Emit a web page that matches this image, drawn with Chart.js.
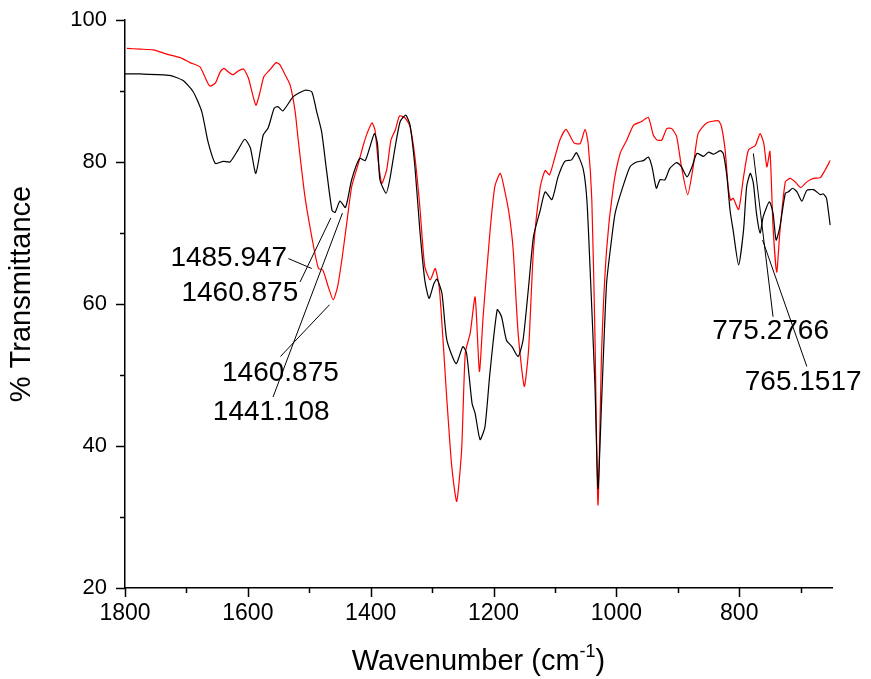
<!DOCTYPE html>
<html>
<head>
<meta charset="utf-8">
<title>IR spectra</title>
<script src="https://cdn.jsdelivr.net/npm/chart.js@4.4.0/dist/chart.umd.min.js"></script>
<style>
body { margin: 0; background: #fff; }
</style>
</head>
<body>
<canvas id="irChart" width="871" height="679"></canvas>
<script>
// black spectrum
const blackWavenumber = [1800,1776,1727,1706,1689,1675,1665,1653,1640,1629,
    1616,1605,1596,1587,1575,1567,1557,1551,1543,1526,
    1507,1496,1488,1480,1472,1463,1458,1450,1441,1431,
    1418,1409,1401,1394,1389,1385,1375,1369,1360,1352,
    1343,1336,1328,1320,1312,1305,1297,1292,1284,1276,
    1261,1250,1244,1235,1230,1222,1214,1206,1194,1187,
    1179,1170,1160,1152,1143,1135,1124,1116,1105,1095,
    1084,1073,1065,1054,1048,1043,1035,1030,1024,1016,
    1008,1002,991,978,967,956,948,942,935,929,
    921,913,902,894,885,877,869,858,850,842,
    831,826,820,815,810,801,793,788,782,777,
    772,766,761,751,745,740,734,725,720,713,
    706,698,690,679,668,663,658,652];
const blackTransmittance = [92.4,92.4,92.2,91.5,89.9,87.1,82.9,79.8,80.1,80.0,
    81.7,83.2,82.0,78.4,83.8,84.8,87.6,87.8,87.2,89.2,
    90.1,89.9,87.1,84.3,78.9,73.2,72.9,74.5,73.6,77.5,
    80.5,80.2,82.2,84.0,82.6,77.5,75.6,77.5,82.2,85.7,
    86.6,85.2,79.3,70.4,63.4,60.8,62.9,63.5,61.5,54.9,
    51.6,54.0,53.1,46.0,44.6,40.9,42.7,50.2,59.2,58.2,
    54.9,54.0,52.6,54.9,62.4,69.5,73.2,75.8,74.7,77.9,
    80.1,80.3,81.3,79.0,74.6,65.3,48.8,34.0,46.5,62.9,
    69.0,72.8,76.1,79.3,80.0,80.2,80.7,79.3,76.3,77.5,
    77.5,79.1,79.9,79.3,77.9,79.3,81.2,80.8,81.4,81.1,
    81.6,81.2,77.9,73.2,70.4,65.5,70.4,76.5,78.4,77.0,
    72.8,70.0,72.3,74.4,72.8,69.0,70.8,75.6,75.8,76.3,
    75.8,74.5,76.0,76.1,75.4,75.5,74.9,71.1];

// red spectrum
const redWavenumber = [1797,1776,1754,1732,1710,1694,1678,1670,1662,1653,
    1645,1639,1632,1624,1616,1607,1599,1587,1580,1574,
    1564,1554,1548,1540,1531,1523,1518,1507,1493,1485,
    1478,1469,1461,1454,1447,1439,1431,1420,1412,1406,
    1398,1393,1388,1382,1374,1367,1360,1353,1344,1336,
    1328,1320,1312,1303,1295,1288,1276,1268,1260,1252,
    1246,1238,1230,1223,1217,1206,1198,1189,1181,1174,
    1168,1160,1150,1143,1135,1124,1116,1109,1100,1092,
    1082,1069,1059,1051,1046,1040,1035,1030,1024,1016,
    1005,994,983,972,959,948,940,934,926,918,
    910,902,894,884,875,867,853,834,829,823,
    818,814,810,801,793,785,774,766,760,755,
    750,745,739,734,725,717,709,700,690,679,
    668,660,652];
const redTransmittance = [96.0,95.9,95.8,95.2,94.7,94.0,93.4,92.0,90.7,91.1,
    92.7,93.2,92.7,92.3,92.8,93.1,91.8,88.0,89.9,92.0,
    93.0,94.0,93.7,92.4,90.8,87.1,83.1,75.1,68.1,65.0,
    64.8,62.4,60.6,62.4,66.2,71.4,76.5,79.8,82.4,84.0,
    85.5,84.5,80.3,77.0,78.9,83.1,84.5,86.5,86.2,85.0,
    80.7,73.7,65.3,63.4,65.0,62.0,46.5,37.1,32.2,39.4,
    53.1,55.9,61.0,50.5,58.2,70.0,76.5,78.4,75.6,72.3,
    67.6,55.9,48.4,53.5,67.6,76.5,78.8,78.2,80.7,83.1,
    84.6,82.7,82.6,84.6,82.6,74.6,55.9,31.7,53.5,67.6,
    76.5,81.2,83.1,85.2,85.7,86.3,83.8,83.1,83.1,84.7,
    84.7,83.6,79.3,75.4,79.3,84.0,85.5,85.8,85.0,81.7,
    76.5,74.6,74.9,73.3,77.9,81.7,82.3,84.0,82.6,79.3,
    81.5,70.9,64.5,70.0,77.2,77.7,77.2,76.4,77.2,77.7,
    77.8,78.9,80.2];

const xTickValues = [1800, 1600, 1400, 1200, 1000, 800];
const yTickValues = [20, 40, 60, 80, 100];

// peak labels, anchored in data units; line goes from (x1,y1) to (x2,y2)
const peakLabels = [
    { text: '1485.947', x: 1536, y: 66.5, align: 'right', x1: 1534, y1: 66.4, x2: 1496, y2: 65.0 },
    { text: '1460.875', x: 1518, y: 61.5, align: 'right', x1: 1515, y1: 63.1, x2: 1465, y2: 72.1 },
    { text: '1460.875', x: 1642, y: 50.3, align: 'left', x1: 1547, y1: 52.6, x2: 1467, y2: 59.9 },
    { text: '1441.108', x: 1657, y: 44.8, align: 'left', x1: 1559, y1: 46.9, x2: 1446, y2: 72.8 },
    { text: '775.2766', x: 844, y: 56.2, align: 'left', x1: 745, y1: 58.2, x2: 777, y2: 81.2 },
    { text: '765.1517', x: 791, y: 49.0, align: 'left', x1: 690, y1: 51.2, x2: 762, y2: 69.0 }
];

const fontName = "'Liberation Sans', Arial, sans-serif";

const toPoints = (xs, ys) => xs.map((x, i) => ({ x: x, y: ys[i] }));

const extras = {
    id: 'extras',
    afterDraw(chart) {
        const c = chart.ctx;
        const xs = chart.scales.x;
        const ys = chart.scales.y;
        c.save();
        c.strokeStyle = '#000';
        c.fillStyle = '#000';

        // major and minor tick marks
        c.lineWidth = 1.5;
        c.beginPath();
        for (let v = 700; v <= 1800; v += 100) {
            const px = Math.round(xs.getPixelForValue(v)) + 0.5;
            const len = xTickValues.includes(v) ? 9 : 5;
            c.moveTo(px, xs.top);
            c.lineTo(px, xs.top + len);
        }
        for (let v = 20; v <= 100; v += 10) {
            const py = Math.round(ys.getPixelForValue(v)) + 0.5;
            const len = yTickValues.includes(v) ? 9 : 5;
            c.moveTo(ys.right, py);
            c.lineTo(ys.right - len, py);
        }
        c.stroke();

        // peak labels
        c.lineWidth = 1;
        c.font = '28px ' + fontName;
        c.textBaseline = 'middle';
        peakLabels.forEach(p => {
            c.beginPath();
            c.moveTo(xs.getPixelForValue(p.x1), ys.getPixelForValue(p.y1));
            c.lineTo(xs.getPixelForValue(p.x2), ys.getPixelForValue(p.y2));
            c.stroke();
            c.textAlign = p.align;
            c.fillText(p.text, xs.getPixelForValue(p.x), ys.getPixelForValue(p.y));
        });

        // axis titles
        c.font = '29px ' + fontName;
        c.textAlign = 'center';
        c.save();
        c.translate(22, 294);
        c.rotate(-Math.PI / 2);
        c.fillText('% Transmittance', 0, 0);
        c.restore();

        const main = 'Wavenumber (cm';
        c.font = '29px ' + fontName;
        const w1 = c.measureText(main).width;
        const w3 = c.measureText(')').width;
        c.font = '18px ' + fontName;
        const w2 = c.measureText('-1').width;
        let tx = (xs.left + xs.right) / 2 - (w1 + w2 + w3) / 2;
        const ty = 662;
        c.textAlign = 'left';
        c.font = '29px ' + fontName;
        c.fillText(main, tx, ty);
        tx += w1;
        c.font = '18px ' + fontName;
        c.fillText('-1', tx, ty - 10);
        tx += w2;
        c.font = '29px ' + fontName;
        c.fillText(')', tx, ty);
        c.restore();
    }
};

window.onload = function () {
    const ctx = document.getElementById('irChart');
    const data = {
        datasets: [{
            label: 'black',
            data: toPoints(blackWavenumber, blackTransmittance),
            borderColor: '#000000',
            borderWidth: 1.2,
            pointRadius: 0,
            tension: 0.2
        }, {
            label: 'red',
            data: toPoints(redWavenumber, redTransmittance),
            borderColor: '#ff0000',
            borderWidth: 1.2,
            pointRadius: 0,
            tension: 0.2
        }]
    };
    const config = {
        type: 'line',
        data: data,
        plugins: [extras],
        options: {
            responsive: false,
            animation: false,
            devicePixelRatio: 1,
            layout: { padding: { left: 0, right: 39, top: 20, bottom: 0 } },
            plugins: { legend: { display: false }, tooltip: { enabled: false } },
            scales: {
                x: {
                    type: 'linear',
                    reverse: true,
                    min: 649,
                    max: 1800,
                    grid: { display: false, drawTicks: false },
                    border: { display: true, color: '#000', width: 1.5 },
                    ticks: {
                        stepSize: 200,
                        includeBounds: false,
                        autoSkip: false,
                        maxRotation: 0,
                        padding: 12,
                        color: '#000',
                        font: { family: fontName, size: 23 },
                        callback: (value) => String(value)
                    },
                    afterFit: (scale) => {
                        scale.height = 91;
                        scale.paddingLeft = 0;
                        scale.paddingRight = 0;
                    }
                },
                y: {
                    min: 20,
                    max: 100,
                    grid: { display: false, drawTicks: false },
                    border: { display: true, color: '#000', width: 1.5 },
                    ticks: {
                        stepSize: 20,
                        padding: 18,
                        color: '#000',
                        font: { family: fontName, size: 22 },
                        callback: (value) => String(value)
                    },
                    afterFit: (scale) => {
                        scale.width = 125;
                        scale.paddingTop = 0;
                        scale.paddingBottom = 0;
                    }
                }
            }
        }
    };
    new Chart(ctx, config);
};
</script>
</body>
</html>
